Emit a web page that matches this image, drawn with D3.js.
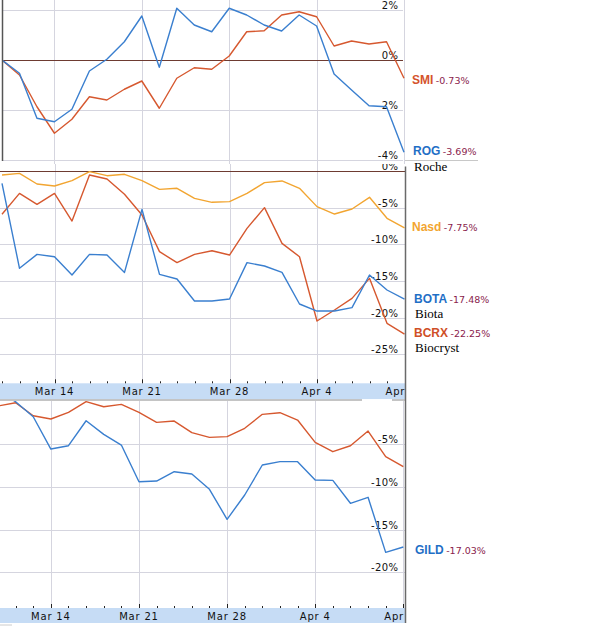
<!DOCTYPE html>
<html>
<head>
<meta charset="utf-8">
<script src="https://cdnjs.cloudflare.com/ajax/libs/d3/7.8.5/d3.min.js"></script>
<style>
  body { margin: 0; background: #fff; }
  svg { display: block; }
</style>
</head>
<body>
<svg id="chart" width="600" height="640"></svg>
<script>
// trading days shown on every panel
const days = [
  "Mar 9", "Mar 10", "Mar 11",
  "Mar 14", "Mar 15", "Mar 16", "Mar 17", "Mar 18",
  "Mar 21", "Mar 22", "Mar 23", "Mar 24", "Mar 25",
  "Mar 28", "Mar 29", "Mar 30", "Mar 31", "Apr 1",
  "Apr 4", "Apr 5", "Apr 6", "Apr 7", "Apr 8",
  "Apr 11"
];
const weekLabels = ["Mar 14", "Mar 21", "Mar 28", "Apr 4", "Apr 11"];

// % change series
const smi = [0, -0.6, -1.87, -2.93, -2.37, -1.47, -1.6, -1.17, -0.84, -1.93, -0.73, -0.31, -0.37, 0.16, 1.13, 1.17, 1.8, 1.93, 1.73, 0.56, 0.76, 0.64, 0.73, -0.73];
const rog = [0, -0.53, -2.33, -2.47, -1.97, -0.44, 0.03, 0.73, 1.76, -0.29, 2.07, 1.4, 1.13, 2.07, 1.8, 1.4, 1.16, 1.8, 1.36, -0.56, -1.2, -1.83, -1.87, -3.69];

const nasd = [-0.55, -0.32, -1.77, -2.05, -1.32, -0.09, -0.64, -0.45, -1.32, -2.5, -2.36, -3.73, -4.27, -4.18, -3.05, -1.59, -1.36, -2.36, -4.86, -5.87, -5.18, -3.59, -6.45, -7.75];
const bota = [-1.68, -13.27, -11.37, -11.69, -14.19, -11.37, -11.46, -13.83, -5.23, -14.1, -14.73, -17.73, -17.73, -17.46, -12.5, -12.96, -13.83, -18.14, -19.1, -19.1, -18.64, -14.19, -16.23, -17.48];
const bcrx = [-5.9, -3.05, -4.55, -3.05, -6.82, -0.55, -1.09, -3.18, -6.0, -11.0, -12.5, -11.37, -10.87, -11.46, -7.82, -5.0, -9.87, -11.69, -20.46, -18.96, -17.37, -14.64, -20.78, -22.25];

const nasdLow = [-0.5, -0.12, -1.64, -2.03, -1.25, 0.0, -0.59, -0.31, -1.25, -2.42, -2.27, -3.63, -4.18, -4.1, -3.12, -1.48, -1.29, -2.15, -4.77, -5.86, -5.16, -3.44, -6.45, -7.62];
const gild = [1.2, 0.0, -1.76, -5.55, -5.16, -2.23, -3.83, -5.08, -9.38, -9.3, -8.21, -8.48, -10.27, -13.79, -10.94, -7.42, -7.03, -7.03, -9.18, -9.22, -11.91, -11.21, -17.66, -17.03];

// y tick values per panel
const ticksTop = [2, 0, -2, -4];
const ticksMid = [0, -5, -10, -15, -20, -25];
const ticksLow = [-5, -10, -15, -20];

// legend texts
const legendTop = [
  { sym: "SMI", change: "-0.73%", name: "" },
  { sym: "ROG", change: "-3.69%", name: "Roche" }
];
const legendMid = [
  { sym: "Nasd", change: "-7.75%", name: "" },
  { sym: "BOTA", change: "-17.48%", name: "Biota" },
  { sym: "BCRX", change: "-22.25%", name: "Biocryst" }
];
const legendLow = [
  { sym: "GILD", change: "-17.03%", name: "" }
];

const BLUE = "#3a7fcf";
const RED = "#d6582f";
const ORANGE = "#f2a531";
const GRID = "#d5d5df";
const ZERO = "#6e3b31";
const MAGENTA = "#8a1c4c";

const svg = d3.select("#chart");
svg.append("rect").attr("width", 600).attr("height", 640).attr("fill", "#fff");
const defs = svg.append("defs");

const drawPanel = (p) => {
  const x = d3.scalePoint().domain(days).range(p.xRange);
  const y = d3.scaleLinear().domain(p.yDomain).range(p.yRange);

  defs.append("clipPath")
    .attr("id", `clip-${p.id}`)
    .append("rect")
    .attr("x", p.clip[0])
    .attr("y", p.clip[1])
    .attr("width", p.clip[2] - p.clip[0])
    .attr("height", p.clip[3] - p.clip[1]);

  const g = svg.append("g");
  g.append("rect")
    .attr("x", 0)
    .attr("y", p.clip[1])
    .attr("width", 600)
    .attr("height", p.clip[3] - p.clip[1])
    .attr("fill", "#fff");

  const plot = g.append("g").attr("clip-path", `url(#clip-${p.id})`);

  // vertical grid on Mondays
  plot.selectAll("line.vgrid")
    .data(weekLabels)
    .enter()
    .append("line")
    .attr("x1", (d) => Math.round(x(d)) + 0.5)
    .attr("x2", (d) => Math.round(x(d)) + 0.5)
    .attr("y1", p.clip[1])
    .attr("y2", p.gridBottom)
    .style("stroke", GRID);

  // horizontal grid
  plot.selectAll("line.hgrid")
    .data(p.ticks.filter((t) => t !== 0))
    .enter()
    .append("line")
    .attr("x1", p.gridX[0])
    .attr("x2", p.gridX[1])
    .attr("y1", (d) => Math.round(y(d)) + 0.5)
    .attr("y2", (d) => Math.round(y(d)) + 0.5)
    .style("stroke", GRID);

  if (p.zeroLine) {
    plot.append("line")
      .attr("x1", p.gridX[0])
      .attr("x2", p.gridX[1])
      .attr("y1", Math.round(y(0)) + 0.5)
      .attr("y2", Math.round(y(0)) + 0.5)
      .style("stroke", ZERO);
  }

  // y labels sit just above their grid line
  plot.selectAll("text.ylab")
    .data(p.ticks)
    .enter()
    .append("text")
    .attr("x", 398.5)
    .attr("y", (d) => y(d) - 1)
    .attr("text-anchor", "end")
    .style("font-family", "DejaVu Sans, Verdana, sans-serif")
    .style("font-size", "10px")
    .style("letter-spacing", "0.4px")
    .style("fill", "#111")
    .text((d) => `${d}%`);

  const line = d3.line()
    .x((d, i) => x(days[i]))
    .y((d) => y(d));

  p.series.forEach((s) => {
    plot.append("path")
      .datum(s.values)
      .attr("d", line)
      .attr("fill", "none")
      .attr("stroke", s.color)
      .attr("stroke-width", 1.4)
      .attr("stroke-linejoin", "round");
  });

  // date axis band
  if (p.band) {
    const [bTop, bBottom] = p.band;
    const axis = g.append("g").attr("clip-path", `url(#clip-${p.id}-band)`);
    defs.append("clipPath")
      .attr("id", `clip-${p.id}-band`)
      .append("rect")
      .attr("x", 0)
      .attr("y", bTop - 8)
      .attr("width", 405)
      .attr("height", bBottom - bTop + 8);

    axis.append("rect")
      .attr("x", 0)
      .attr("y", bTop)
      .attr("width", 405)
      .attr("height", bBottom - bTop)
      .attr("fill", "#c6dcf5");

    axis.selectAll("line.tick")
      .data(days)
      .enter()
      .append("line")
      .attr("x1", (d) => Math.round(x(d)) + 0.5)
      .attr("x2", (d) => Math.round(x(d)) + 0.5)
      .attr("y1", (d) => (weekLabels.includes(d) ? bTop - 4 : bTop - 2))
      .attr("y2", bTop)
      .style("stroke", "#222");

    axis.selectAll("text.xlab")
      .data(weekLabels)
      .enter()
      .append("text")
      .attr("x", (d) => x(d))
      .attr("y", bTop + 12)
      .attr("text-anchor", "middle")
      .style("font-family", "DejaVu Sans, Verdana, sans-serif")
      .style("font-size", "10px")
      .style("letter-spacing", "0.8px")
      .style("fill", "#111")
      .text((d) => d);
  }

  // legend at the right
  p.legend.forEach((d, i) => {
    const pos = p.legendPos[i];
    const t = svg.append("text")
      .attr("x", pos[0])
      .attr("y", pos[1]);
    t.append("tspan")
      .style("font-family", "Liberation Sans, Arial, sans-serif")
      .style("font-weight", "bold")
      .style("font-size", "12px")
      .style("fill", d.color)
      .text(d.sym);
    t.append("tspan")
      .attr("dx", 2.5)
      .style("font-family", "DejaVu Sans, Verdana, sans-serif")
      .style("font-size", "9.5px")
      .style("fill", MAGENTA)
      .text(d.change);
    if (d.name) {
      svg.append("text")
        .attr("x", pos[0] + 1)
        .attr("y", pos[2])
        .style("font-family", "Liberation Serif, Times New Roman, serif")
        .style("font-size", "13px")
        .style("fill", "#000")
        .text(d.name);
    }
  });
};

// middle panel: Nasdaq, Biota, Biocryst
drawPanel({
  id: "mid",
  xRange: [2, 404.5],
  yDomain: [-25, 0],
  yRange: [354.3, 171],
  clip: [0, 164, 405, 383],
  gridX: [0, 405],
  gridBottom: 383,
  ticks: ticksMid,
  zeroLine: true,
  series: [
    { values: nasd, color: ORANGE },
    { values: bcrx, color: RED },
    { values: bota, color: BLUE }
  ],
  band: [383.3, 399.3],
  legend: legendMid.map((d, i) => ({ ...d, color: [ORANGE, "#1f6fc6", "#cf4f27"][i] })),
  legendPos: [[412, 231, 0], [414, 303, 317.5], [414, 337, 351.5]]
});

// bottom panel: Gilead against Nasdaq
drawPanel({
  id: "low",
  xRange: [-2, 403.3],
  yDomain: [-20, 0],
  yRange: [572.3, 401.7],
  clip: [0, 401, 405, 608],
  gridX: [0, 405],
  gridBottom: 608,
  ticks: ticksLow,
  zeroLine: false,
  series: [
    { values: nasdLow, color: RED },
    { values: gild, color: BLUE }
  ],
  band: [608, 623],
  legend: legendLow.map((d) => ({ ...d, color: "#1f6fc6" })),
  legendPos: [[415, 553.5, 0]]
});

// top panel: SMI vs Roche, overlaps the top of the middle one
drawPanel({
  id: "top",
  xRange: [2, 404],
  yDomain: [-4, 2],
  yRange: [160, 10],
  clip: [2, 0, 405, 164],
  gridX: [2, 403],
  gridBottom: 164,
  ticks: ticksTop,
  zeroLine: true,
  series: [
    { values: smi, color: RED },
    { values: rog, color: BLUE }
  ],
  band: null,
  legend: legendTop.map((d, i) => ({ ...d, color: ["#d4532c", "#1f6fc6"][i] })),
  legendPos: [[412, 83.5, 0], [413, 154.5, 171]]
});

// frame pieces of the stacked screenshots
const frame = svg.append("g");
frame.append("line")
  .attr("x1", 2.5).attr("x2", 2.5).attr("y1", 0).attr("y2", 161)
  .style("stroke", "#555").style("stroke-width", 1.5);
frame.append("line")
  .attr("x1", 405).attr("x2", 478).attr("y1", 160.5).attr("y2", 160.5)
  .style("stroke", "#c8c8c8");
frame.append("line")
  .attr("x1", 405.5).attr("x2", 405.5).attr("y1", 166.5).attr("y2", 623)
  .style("stroke", "#6a6a6a").style("stroke-width", 1.5);
frame.append("line")
  .attr("x1", 0).attr("x2", 362).attr("y1", 400).attr("y2", 400)
  .style("stroke", "#8a8a8a");
frame.append("line")
  .attr("x1", 392).attr("x2", 405).attr("y1", 400).attr("y2", 400)
  .style("stroke", "#8a8a8a");
frame.append("line")
  .attr("x1", 0).attr("x2", 12).attr("y1", 625).attr("y2", 625)
  .style("stroke", "#cccccc");
</script>
</body>
</html>
